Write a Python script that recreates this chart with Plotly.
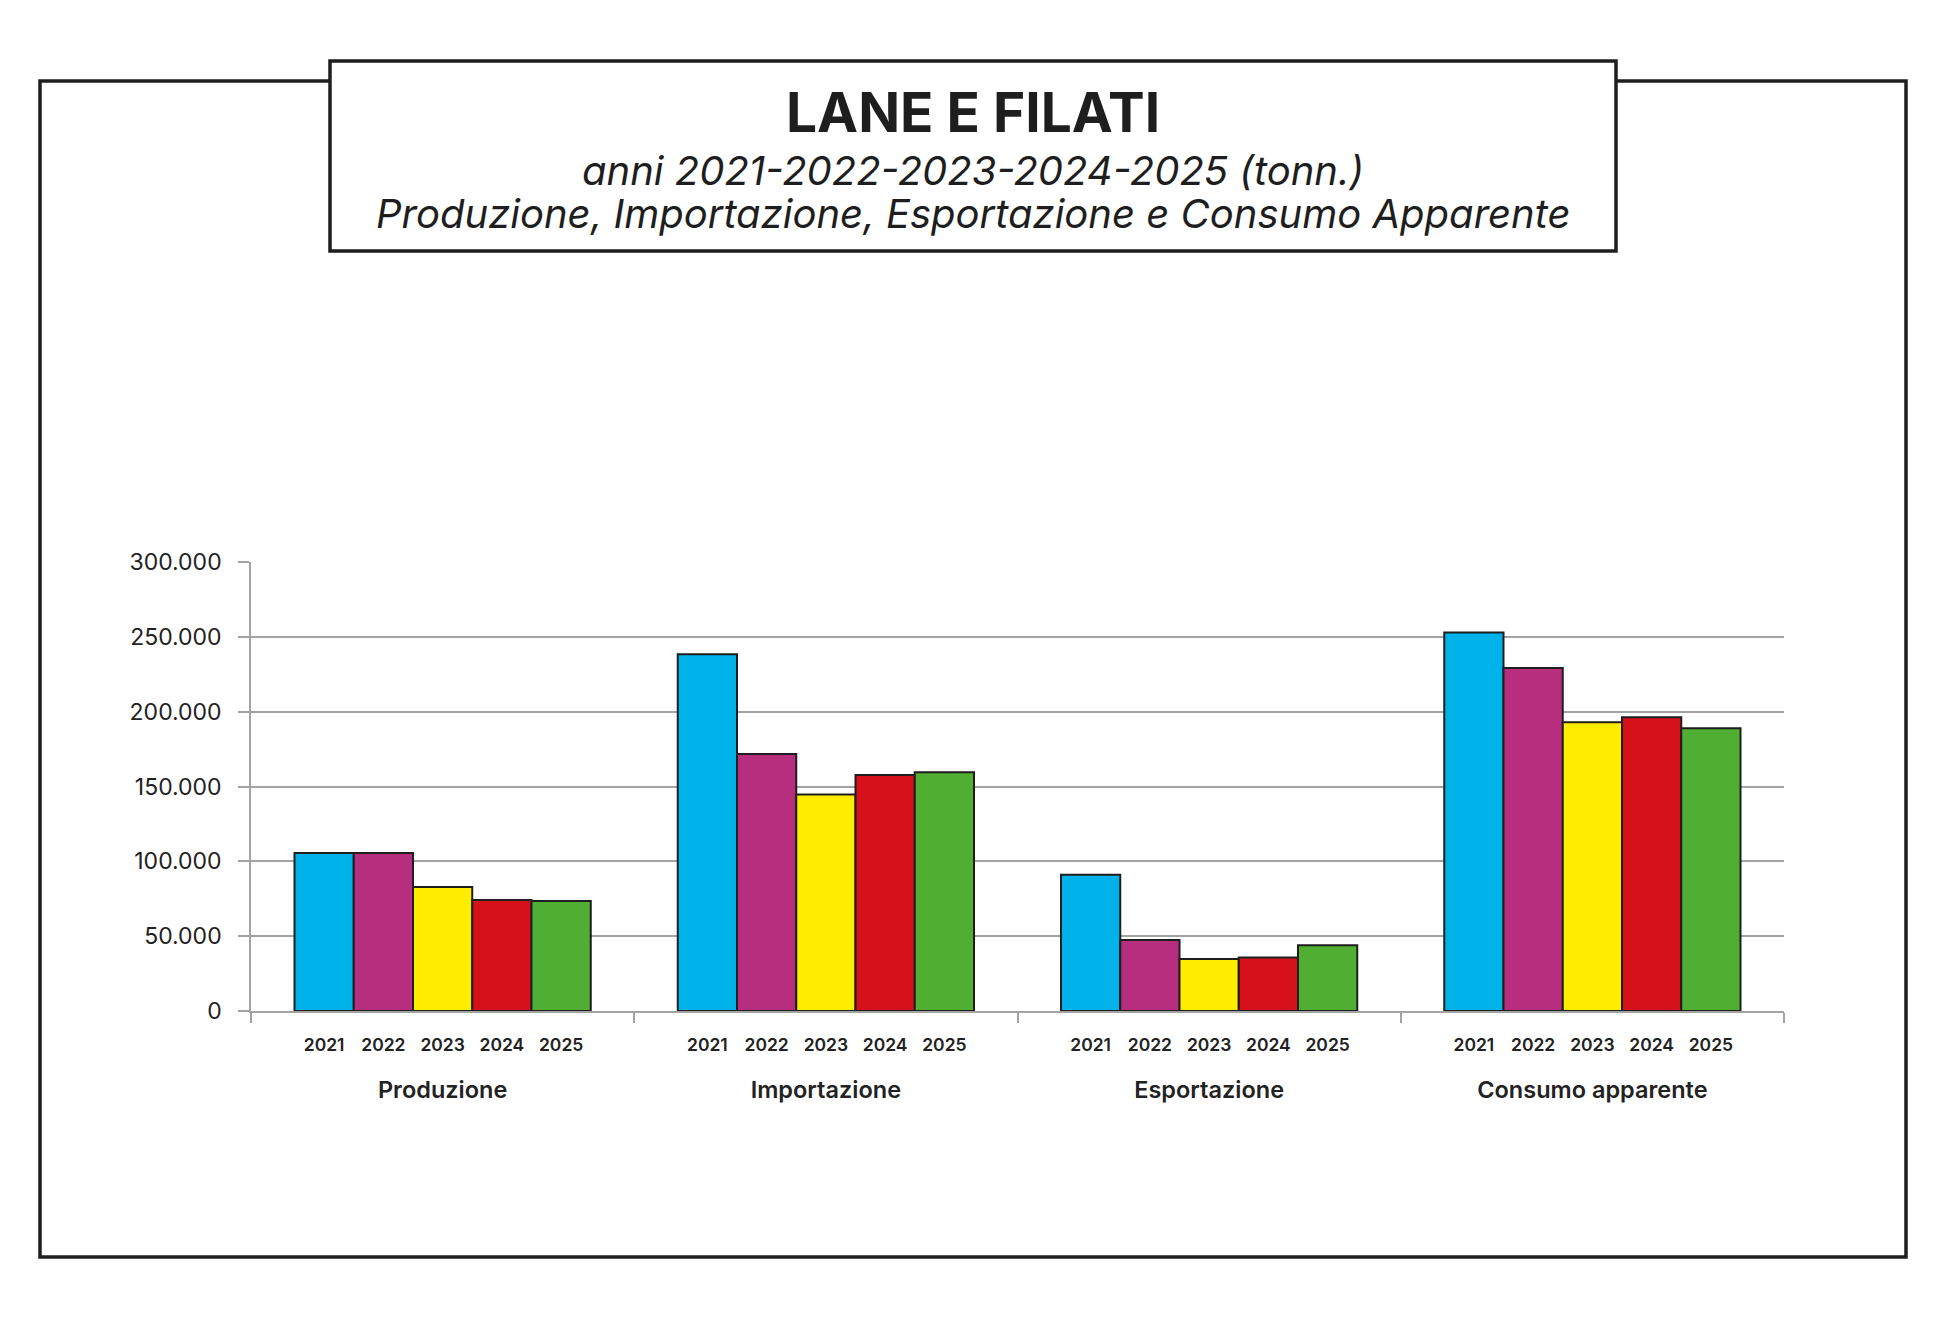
import plotly.graph_objects as go

categorie = ['Produzione', 'Importazione', 'Esportazione', 'Consumo apparente']
anni = ['2021', '2022', '2023', '2024', '2025']
colori = ['#00b2ea', '#b72e7e', '#ffed00', '#d7111a', '#50ae32']

# tonnellate, 2021..2025
produzione = [105500, 105500, 82900, 74200, 73500]
importazione = [238400, 171700, 144700, 157700, 159500]
esportazione = [91100, 47500, 34700, 35700, 44000]
consumo_apparente = [252900, 229100, 192900, 196200, 188900]

serie = [produzione, importazione, esportazione, consumo_apparente]

OFF = 8  # margine del body della pagina
W, H = 1949 - OFF, 1329 - OFF
L, T = 251 - OFF, 562 - OFF
PW, PH = 1533, 449
R, B = W - L - PW, H - T - PH
gap = 0.227
grigio = '#a3a3a3'
nero = '#1e1e1e'


def px(x, y):
    # pixel della pagina -> coordinate paper
    return (x - OFF - L) / PW, (T + PH - (y - OFF)) / PH


fig = go.Figure()
for j, anno in enumerate(anni):
    fig.add_trace(go.Bar(
        x=categorie,
        y=[s[j] for s in serie],
        name=anno,
        marker=dict(color=colori[j], line=dict(color=nero, width=2)),
    ))

# etichette degli anni sotto ogni barra
w = (1 - gap) / len(anni)
pos = [i + (j - (len(anni) - 1) / 2) * w for i in range(len(categorie)) for j in range(len(anni))]
etichette = anni * len(categorie)
fig.add_trace(go.Scatter(x=pos, y=[0] * len(pos), xaxis='x2', mode='markers',
                         marker=dict(opacity=0), hoverinfo='skip', showlegend=False))

x0, y0 = px(40, 81)
x1, y1 = px(1906, 1257)
bx0, by0 = px(330, 61)
bx1, by1 = px(1616, 251)

fig.update_layout(
    width=W, height=H,
    margin=dict(l=L, r=R, t=T, b=B),
    paper_bgcolor='white', plot_bgcolor='white',
    barmode='group', bargap=gap, bargroupgap=0,
    showlegend=False,
    separators=',.',
    font=dict(family='Inter, sans-serif', color='#222222'),
    xaxis=dict(
        type='category', range=[-0.5, 3.5], tickson='boundaries',
        ticks='outside', ticklen=10, tickcolor=grigio, tickwidth=1.5,
        showline=True, linecolor=grigio, linewidth=1.5, showgrid=False,
        tickfont=dict(size=23.5, weight=600), ticklabelstandoff=57,
    ),
    xaxis2=dict(
        overlaying='x', anchor='y', side='bottom', range=[-0.5, 3.5],
        tickvals=pos, ticktext=etichette, ticks='', showgrid=False,
        showline=False, zeroline=False,
        tickfont=dict(size=17.5, weight=600), ticklabelstandoff=21,
    ),
    yaxis=dict(
        range=[0, 300000], tickvals=list(range(0, 300001, 50000)), tickformat=',',
        showgrid=True, gridcolor=grigio, gridwidth=1.5,
        showline=True, linecolor=grigio, linewidth=1.5, zeroline=False,
        ticks='outside', ticklen=11, tickcolor=grigio, tickwidth=1.5,
        tickfont=dict(size=23), ticklabelstandoff=12,
    ),
    shapes=[
        dict(type='rect', xref='paper', yref='paper', x0=x0, y0=y0, x1=x1, y1=y1,
             line=dict(color=nero, width=3.5), fillcolor='rgba(0,0,0,0)'),
        dict(type='rect', xref='paper', yref='paper', x0=bx0, y0=by0, x1=bx1, y1=by1,
             line=dict(color=nero, width=3.5), fillcolor='white'),
    ],
)

cx = (330 + 1616) / 2
righe = [
    ('<b>LANE E FILATI</b>', 112, 55),
    ('<i>anni 2021-2022-2023-2024-2025 (tonn.)</i>', 170, 40),
    ('<i>Produzione, Importazione, Esportazione e Consumo Apparente</i>', 213, 40),
]
for testo, yy, size in righe:
    ax, ay = px(cx, yy)
    fig.add_annotation(text=testo, x=ax, y=ay, xref='paper', yref='paper',
                       xanchor='center', yanchor='middle', showarrow=False,
                       font=dict(size=size, color='#1e1e1e'))

fig.write_html('out.html')
